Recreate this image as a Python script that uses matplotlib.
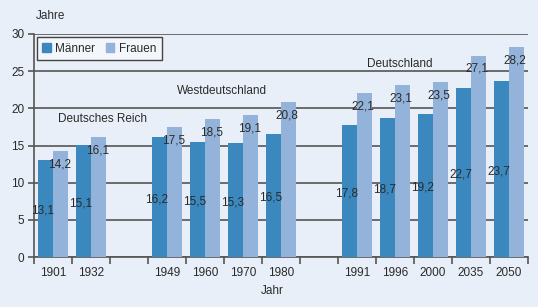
import numpy as np
import matplotlib.pyplot as plt

plt.rcParams['font.family'] = ['Liberation Sans', 'DejaVu Sans']

# Daten
jahre = ['1901', '1932', '', '1949', '1960', '1970', '1980', '', '1991', '1996', '2000', '2035', '2050']
maenner = [13.1, 15.1, None, 16.2, 15.5, 15.3, 16.5, None, 17.8, 18.7, 19.2, 22.7, 23.7]
frauen = [14.2, 16.1, None, 17.5, 18.5, 19.1, 20.8, None, 22.1, 23.1, 23.5, 27.1, 28.2]
gruppen = ['Deutsches Reich', 'Westdeutschland', 'Deutschland']
gruppen_pos = [(1.29, 18.6), (4.45, 22.3), (9.13, 26.0)]

bg = '#e9eff8'
c_m = '#3b88bf'
c_f = '#93b3da'
txt = '#2a2a2a'
grid_c = '#555555'

fig = plt.figure(figsize=(5.38, 3.07), dpi=100, facecolor=bg)
ax = fig.add_axes([34/538, 50/307, 494/538, 223/307], facecolor=bg)

x = np.arange(len(jahre))
w = 0.39
for i in x:
    if maenner[i] is None:
        continue
    ax.bar(i - w/2, maenner[i], w, color=c_m, zorder=3)
    ax.bar(i + w/2, frauen[i], w, color=c_f, zorder=3)
    ax.text(i - w/2 - 0.08, maenner[i]/2 - 0.3, f'{maenner[i]:.1f}'.replace('.', ','),
            ha='center', va='center', fontsize=8.5, color=txt, zorder=4)
    ax.text(i + w/2 - 0.03, frauen[i] - 1.8, f'{frauen[i]:.1f}'.replace('.', ','),
            ha='center', va='center', fontsize=8.5, color=txt, zorder=4)

for name, (gx, gy) in zip(gruppen, gruppen_pos):
    ax.text(gx, gy, name, ha='center', va='center', fontsize=8.5, color=txt)

ax.set_xlim(-0.5, 12.5)
ax.set_ylim(0, 30)
ax.set_yticks(np.arange(0, 31, 5))
ax.grid(axis='y', color=grid_c, linewidth=1.2, zorder=1)
ax.set_xticks(x)
ax.set_xticklabels(jahre)
ax.set_xticks(np.arange(-0.5, 13, 1), minor=True)
ax.tick_params(axis='x', which='major', length=0, pad=7, labelsize=8.5, labelcolor=txt)
ax.tick_params(axis='x', which='minor', length=5, width=1.2, color=grid_c, direction='out')
ax.tick_params(axis='y', length=4, width=1.2, color=grid_c, pad=3, labelsize=8.5, labelcolor=txt)
for s in ['top', 'right']:
    ax.spines[s].set_visible(False)
ax.spines['left'].set_color(grid_c)
ax.spines['left'].set_linewidth(1.2)
ax.spines['bottom'].set_color(grid_c)
ax.spines['bottom'].set_linewidth(1.2)

h1 = plt.Rectangle((0, 0), 1, 1, color=c_m)
h2 = plt.Rectangle((0, 0), 1, 1, color=c_f)
leg = ax.legend([h1, h2], ['Männer', 'Frauen'], loc='upper left', bbox_to_anchor=(0.006, 0.985),
                borderaxespad=0, ncol=2, fontsize=8.5, frameon=True, fancybox=False,
                handlelength=0.7, handleheight=0.7, handletextpad=0.4, columnspacing=0.9,
                borderpad=0.45, labelcolor=txt)
leg.get_frame().set_edgecolor('#444444')
leg.get_frame().set_facecolor('#f3f6fb')
leg.get_frame().set_linewidth(1.0)
leg.get_frame().set_alpha(1)

fig.text(36/538, 1 - 16/307, 'Jahre', ha='left', va='center', fontsize=8.5, color=txt)
fig.text(272/538, 1 - 291/307, 'Jahr', ha='center', va='center', fontsize=8.5, color=txt)

fig.savefig('out.png', dpi=100, facecolor=bg)
